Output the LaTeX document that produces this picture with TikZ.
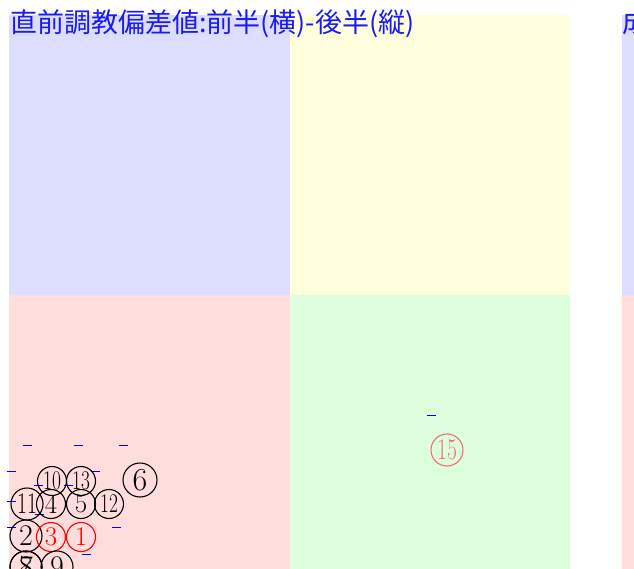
\documentclass[tikz,border=0pt]{standalone}
\usepackage{fontspec}
\newfontfamily\cjkfont{Noto Sans CJK JP}
\definecolor{qblue}{HTML}{DDDDFF}
\definecolor{qyellow}{HTML}{FFFFDD}
\definecolor{qred}{HTML}{FFDDDD}
\definecolor{qgreen}{HTML}{DDFFDD}
\definecolor{titleblue}{HTML}{1A1AF5}
\definecolor{softred}{HTML}{F07070}
\tikzset{
  cn/.style={circle,draw,line width=1.1pt,inner sep=0pt,minimum size=29pt,font=\fontsize{27}{27}\selectfont},
  cnb/.style={cn,minimum size=32pt,font=\fontsize{30}{30}\selectfont},
  cnl/.style={cn,minimum size=34pt,font=\fontsize{32}{32}\selectfont},
  hot/.style={text=red,draw=red},
  soft/.style={text=softred,draw=softred},
  mk/.style={draw=blue,line width=1pt},
  ttl/.style={anchor=base west,inner sep=0pt,text=titleblue,font=\cjkfont\fontsize{27}{27}\selectfont},
}
\newcommand{\tw}[1]{\scalebox{0.72}[1]{#1}}
\begin{document}
\begin{tikzpicture}[x=1pt,y=-1pt]
\useasboundingbox (0,0) rectangle (634,569);
% quadrants
\fill[qblue] (9,15) rectangle (290,295);
\fill[qyellow] (290,15) rectangle (570,295);
\fill[qred] (9,295) rectangle (290,569);
\fill[qgreen] (290,295) rectangle (570,569);
\fill[qblue] (622,15) rectangle (634,295);
\fill[qred] (622,295) rectangle (634,569);
% titles
\node[ttl] (title) at (10,33) {直前調教偏差値:前半(横)-後半(縦)};
\node[ttl] (title2) at (622,33) {成};
% markers
\foreach \x/\y in {27/445,78/445,123/445,11/471,95/471,38/485,68/485,11/501,39/514,11/527,116/527,86/554,431/415}
  \draw[mk] (\x-4.5,\y) -- (\x+4.5,\y);
% circled numbers
\node[cn] (n10) at (52,481) {\tw{10}};
\node[cn] (n13) at (81,481) {\tw{13}};
\node[cnl] (n6) at (140,480) {6};
\node[cnb] (n11) at (27,504) {\tw{11}};
\node[cn] (n4) at (51,504) {4};
\node[cn] (n5) at (81,504) {5};
\node[cn] (n12) at (109,504) {\tw{12}};
\node[cnb] (n2) at (26,536) {2};
\node[cn,hot] (n3) at (51,537) {3};
\node[cn,hot] (n1) at (81,537) {1};
\node[cnb] (n7) at (26,567) {7};
\node[cnb] (n8) at (26,567) {8};
\node[cnb] (n9) at (57,567) {9};
\node[cnb,soft] (n15) at (447,450) {\tw{15}};
\end{tikzpicture}
\end{document}
